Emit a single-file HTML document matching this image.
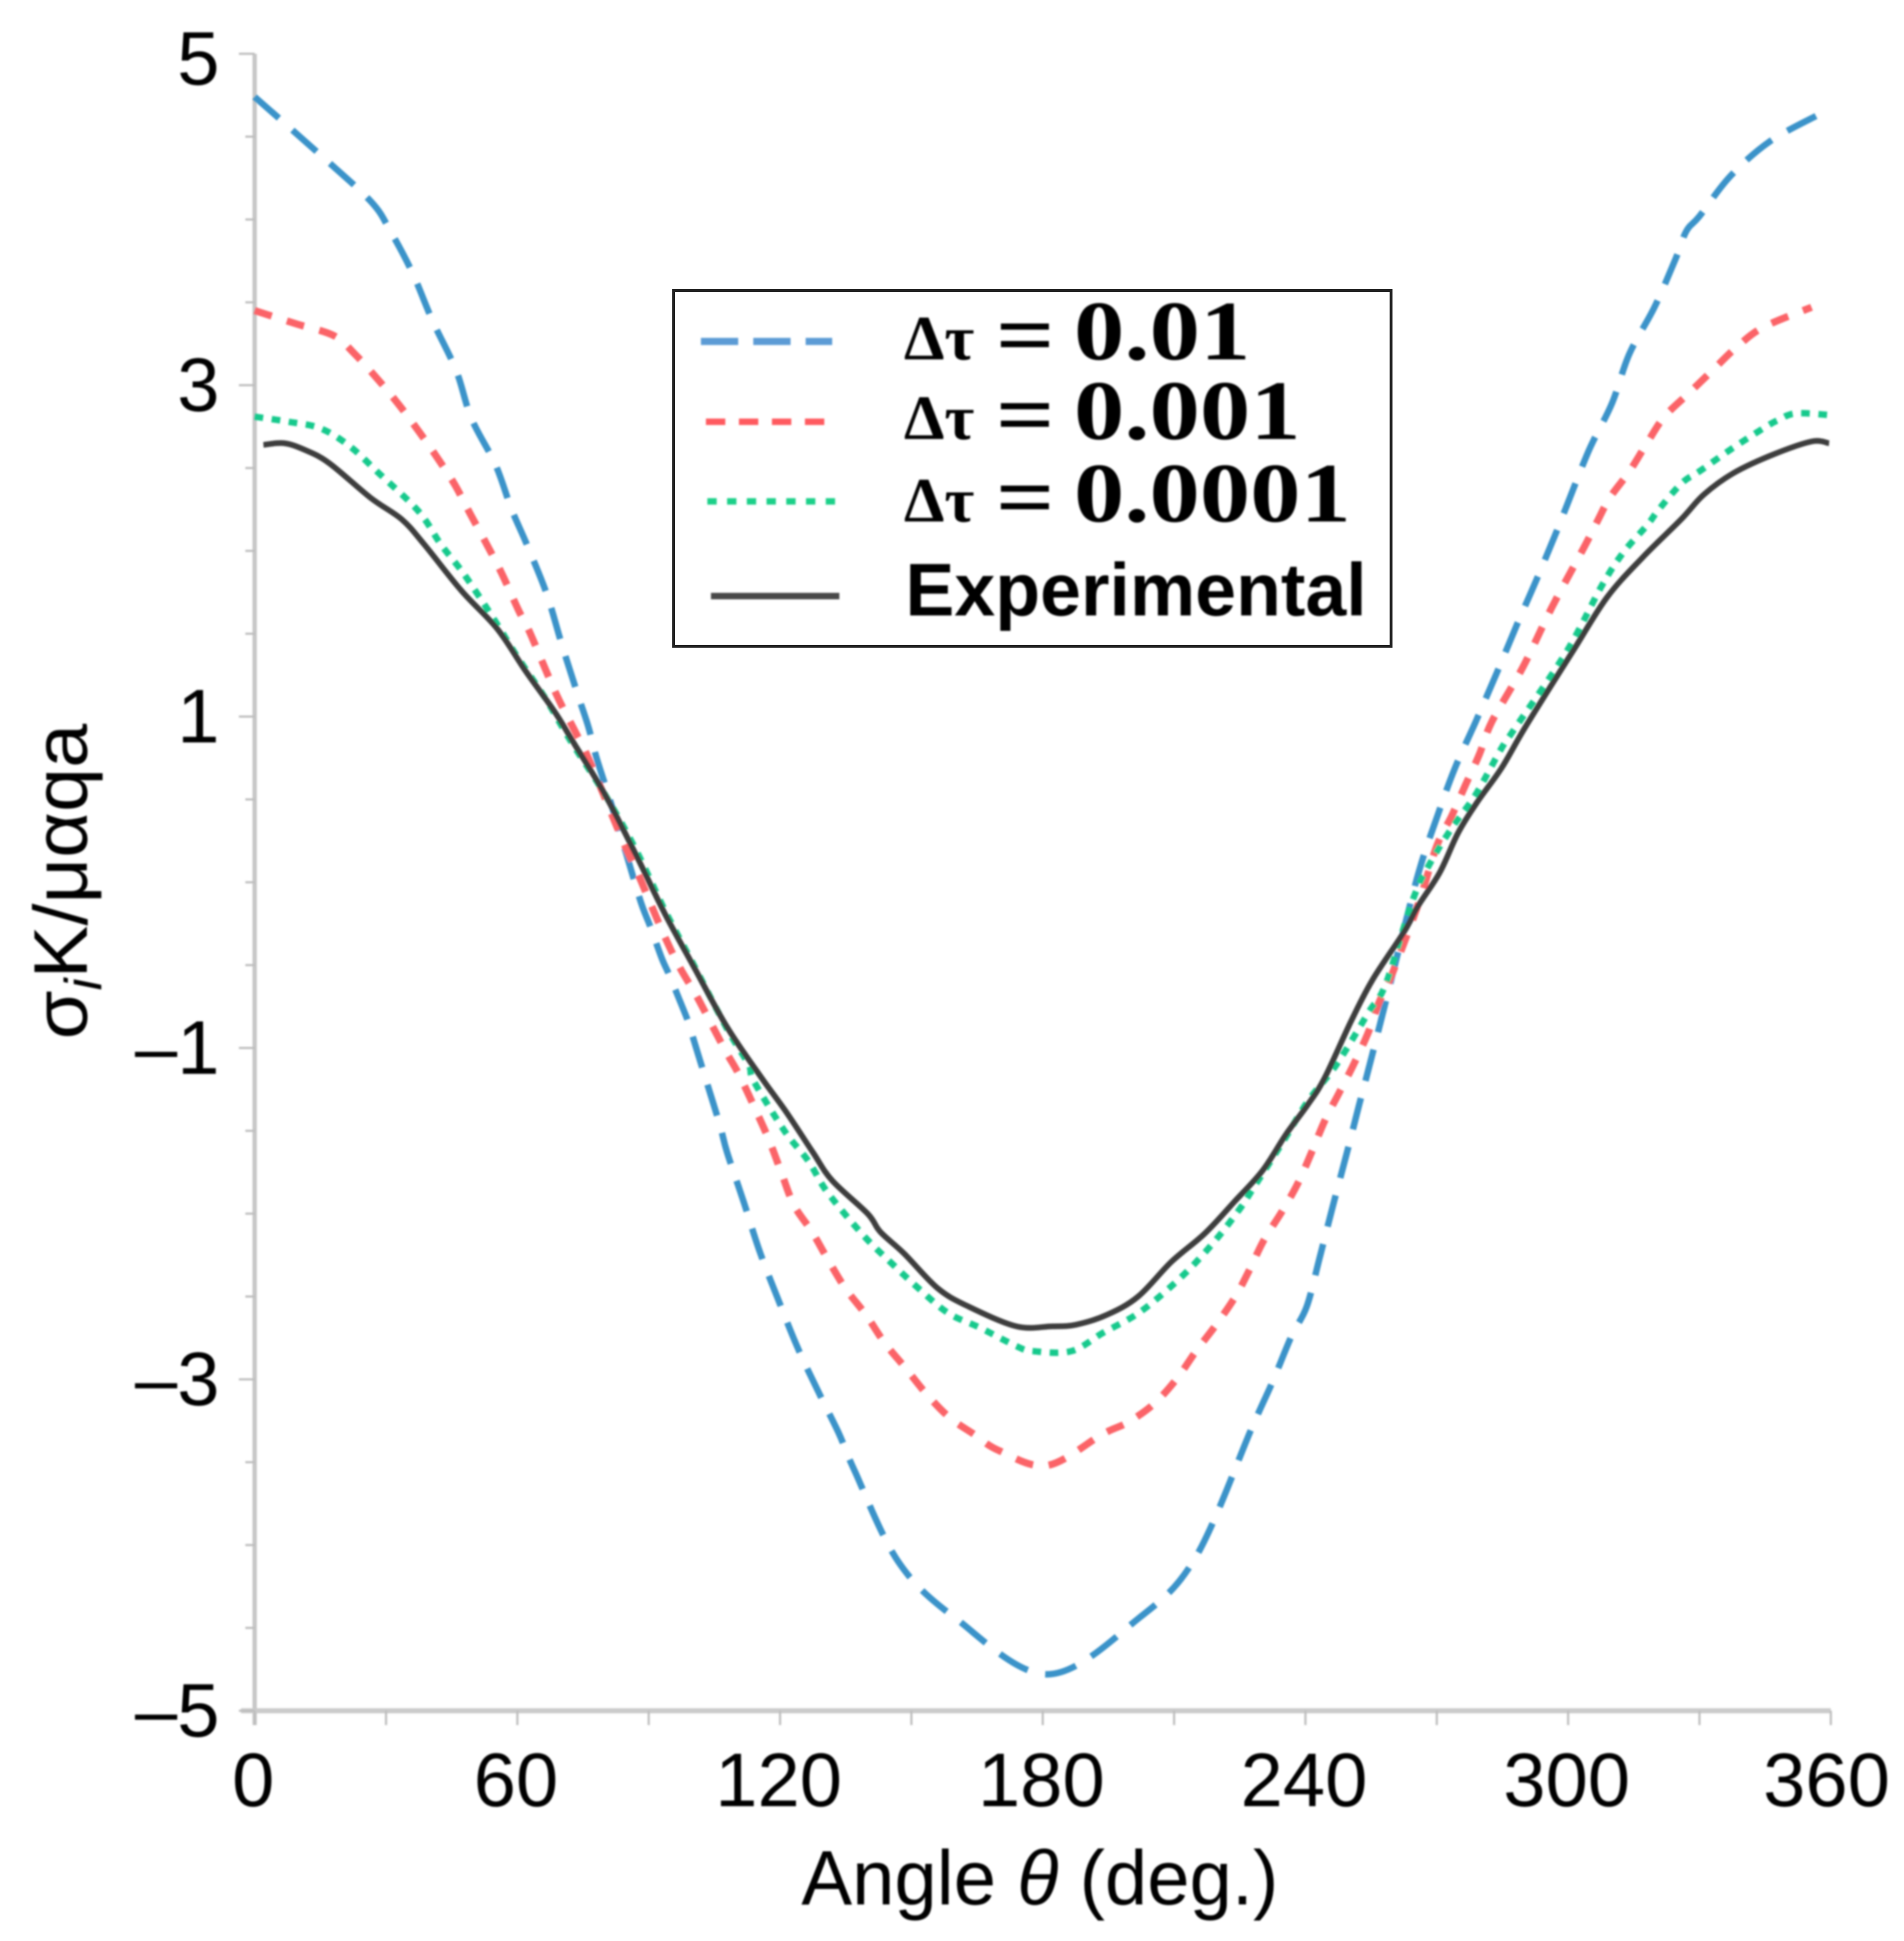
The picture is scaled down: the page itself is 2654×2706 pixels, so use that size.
<!DOCTYPE html>
<html>
<head>
<meta charset="utf-8">
<title>Stress curve chart</title>
<style>
html,body{margin:0;padding:0;background:#fff;}
svg{display:block;}
text{font-family:"Liberation Sans",sans-serif;fill:#000;}
</style>
</head>
<body>
<svg id="chart" xmlns="http://www.w3.org/2000/svg" width="2654" height="2706" viewBox="0 0 2654 2706">
<defs>
<filter id="soft" x="-5%" y="-5%" width="110%" height="110%"><feGaussianBlur stdDeviation="1.3"/></filter>
<filter id="softText" x="-5%" y="-5%" width="110%" height="110%"><feGaussianBlur stdDeviation="1.2"/></filter>
</defs>
<rect width="2654" height="2706" fill="#fff"/>
<g id="axes" filter="url(#soft)"></g>
<g id="series" filter="url(#soft)" fill="none"></g>
<g id="labels" filter="url(#softText)"></g>
<g filter="url(#softText)">
<text x="1117" y="2655" font-size="108" textLength="665" lengthAdjust="spacingAndGlyphs">Angle <tspan font-style="italic">θ</tspan> (deg.)</text>
<text transform="translate(121,1449) rotate(-90)" font-size="106" textLength="440" lengthAdjust="spacingAndGlyphs">σ<tspan font-style="italic" font-size="72" dy="20">i</tspan><tspan dy="-20">K/μαqa</tspan></text>
</g>
<g>
<rect x="939" y="405" width="1000" height="496" fill="#fff" stroke="#222" stroke-width="4"/>
<g filter="url(#soft)" fill="none">
<line x1="977" y1="476" x2="1160" y2="476" stroke="#5b9bd5" stroke-width="10" stroke-dasharray="52 21"/>
<line x1="984" y1="588" x2="1149" y2="588" stroke="#ff5a5f" stroke-width="9" stroke-dasharray="27 19"/>
<line x1="986" y1="699" x2="1165" y2="699" stroke="#1fd089" stroke-width="9" stroke-dasharray="13 14.5"/>
<line x1="991" y1="831" x2="1170" y2="831" stroke="#4a4a4a" stroke-width="9"/>
</g>
<g filter="url(#softText)">
<g>
<text x="1260" y="501" font-size="88" font-weight="bold" textLength="98" lengthAdjust="spacingAndGlyphs" style="font-family:'Liberation Serif',serif">Δτ</text>
<text x="1388" y="508" font-size="122" font-weight="bold" textLength="82" lengthAdjust="spacingAndGlyphs" style="font-family:'Liberation Serif',serif">=</text>
<text x="1497" y="501" font-size="118" font-weight="bold" textLength="246" lengthAdjust="spacingAndGlyphs" style="font-family:'Liberation Serif',serif">0.01</text>
</g>
<g>
<text x="1260" y="612" font-size="88" font-weight="bold" textLength="98" lengthAdjust="spacingAndGlyphs" style="font-family:'Liberation Serif',serif">Δτ</text>
<text x="1388" y="619" font-size="122" font-weight="bold" textLength="82" lengthAdjust="spacingAndGlyphs" style="font-family:'Liberation Serif',serif">=</text>
<text x="1497" y="612" font-size="118" font-weight="bold" textLength="316" lengthAdjust="spacingAndGlyphs" style="font-family:'Liberation Serif',serif">0.001</text>
</g>
<g>
<text x="1260" y="727" font-size="88" font-weight="bold" textLength="98" lengthAdjust="spacingAndGlyphs" style="font-family:'Liberation Serif',serif">Δτ</text>
<text x="1388" y="734" font-size="122" font-weight="bold" textLength="82" lengthAdjust="spacingAndGlyphs" style="font-family:'Liberation Serif',serif">=</text>
<text x="1497" y="727" font-size="118" font-weight="bold" textLength="386" lengthAdjust="spacingAndGlyphs" style="font-family:'Liberation Serif',serif">0.0001</text>
</g>
</g>
<text filter="url(#softText)" x="1262" y="858" font-size="104" font-weight="bold" textLength="643" lengthAdjust="spacingAndGlyphs">Experimental</text>
</g>
</svg>
<script>
const xTickLabels = [0, 60, 120, 180, 240, 300, 360];
const yTickLabels = [5, 3, 1, -1, -3, -5];

const blueAngles = [0,15,26.5,31,36,40.6,46,49.5,55,58.7,62.3,66.7,70.1,73.7,76.2,78.1,81,84.9,88.2,90.4,93,94.7,97.8,99.1,101.3,102.7,106.2,107.9,111.7,115.5,119.9,124.2,129.4,133.5,137,147,160,181,202,215,227.8,232.4,236.8,240.3,243.3,246.3,249.4,252.3,253.6,257.2,263,266.3,270,274,278.9,283.8,288.4,293,297.4,299.8,304.8,310,314,319.7,324.5,327,330,337,346,357];
const blueValues = [4.74,4.39,4.11,3.93,3.68,3.39,3.09,2.80,2.52,2.25,2.03,1.74,1.44,1.14,0.94,0.75,0.51,0.17,-0.12,-0.27,-0.46,-0.56,-0.76,-0.85,-1.04,-1.16,-1.46,-1.63,-1.93,-2.24,-2.54,-2.82,-3.11,-3.33,-3.55,-4.1,-4.44,-4.78,-4.44,-4.07,-3.29,-3.02,-2.74,-2.56,-2.26,-1.95,-1.64,-1.34,-1.21,-0.84,-0.23,0.10,0.39,0.68,0.97,1.27,1.56,1.84,2.12,2.28,2.61,2.89,3.19,3.47,3.76,3.93,4.02,4.26,4.47,4.63];

const redAngles = [0,9.5,18,22.8,28.3,33,37.8,41.5,45.7,49.3,53,56.5,60.3,62.8,68.8,73.4,76.2,84.4,87.4,90.6,93.7,97,100.8,104.4,107.8,110.6,114.7,117.7,120.4,123.2,127.3,131,134.9,139.6,143.9,148.6,153.5,158.7,164.2,170,181,193.7,199.4,205.3,210.5,215,219.6,224,227.2,230.5,234.8,238.4,241.4,244.4,247.7,251,254.3,256.9,259.7,265.8,270,273.4,276.6,279.7,282.6,289.7,296.3,303.4,306.7,309.5,314,318,322,327.5,333,338.5,344.6,355.6];
const redValues = [3.45,3.37,3.30,3.19,3.03,2.88,2.71,2.57,2.40,2.22,2.04,1.86,1.64,1.51,1.14,0.90,0.75,0.23,0.06,-0.14,-0.33,-0.51,-0.68,-0.86,-1.03,-1.16,-1.39,-1.57,-1.76,-1.95,-2.11,-2.28,-2.45,-2.61,-2.78,-2.93,-3.09,-3.23,-3.33,-3.43,-3.52,-3.33,-3.26,-3.15,-3.0,-2.83,-2.67,-2.50,-2.34,-2.16,-1.98,-1.81,-1.63,-1.44,-1.27,-1.10,-0.91,-0.72,-0.56,-0.13,0.22,0.40,0.59,0.77,0.97,1.30,1.66,2.01,2.18,2.32,2.48,2.65,2.81,2.95,3.09,3.23,3.35,3.47];

const greenAngles = [0,7.5,15,21.8,28.3,37.4,42.5,47.8,54.6,60,66.4,72,80,87,93.7,100.3,107.8,112.8,114,121,126.4,130.8,139,145.5,151.6,158.4,165.8,174,177.8,186.5,193.7,201.3,208,214.4,220.4,225.3,228,235,240.6,247.1,254.3,258.4,264.6,269,274,278.9,284.8,287.6,299.6,307.7,312.6,318.2,320.7,326,330,337,344.6,348,352,359.6];
const greenValues = [2.81,2.78,2.74,2.63,2.47,2.24,2.04,1.86,1.59,1.36,1.11,0.86,0.53,0.20,-0.17,-0.50,-0.88,-1.10,-1.2,-1.50,-1.68,-1.87,-2.13,-2.30,-2.45,-2.60,-2.69,-2.80,-2.83,-2.83,-2.72,-2.61,-2.47,-2.31,-2.13,-1.96,-1.85,-1.56,-1.32,-1.10,-0.79,-0.61,-0.10,0.14,0.35,0.53,0.81,0.92,1.39,1.79,1.99,2.16,2.25,2.41,2.48,2.61,2.74,2.79,2.83,2.82];

const blackAngles = [2,6.7,11.4,17,26.5,33.6,38.7,47.2,55.4,62,68.5,72.9,80,87.2,93.7,100.3,107.8,115.5,121.5,127.5,131.9,140,142.9,148.3,156,163,174,182,187.6,194.7,201.8,209.4,217,223.7,230.2,235.6,240.6,244.4,250.4,255.3,262.5,265.8,270.7,274.9,279.4,284.8,290.3,301.2,308.9,317,325.8,331,337.8,346.7,355.6,359.6];
const blackValues = [2.64,2.65,2.61,2.53,2.32,2.19,2.04,1.76,1.53,1.27,1.03,0.84,0.53,0.16,-0.19,-0.51,-0.87,-1.17,-1.39,-1.63,-1.80,-2.00,-2.11,-2.24,-2.45,-2.56,-2.68,-2.68,-2.67,-2.61,-2.50,-2.29,-2.12,-1.93,-1.74,-1.52,-1.34,-1.18,-0.84,-0.59,-0.30,-0.14,0.06,0.30,0.49,0.69,0.94,1.40,1.72,1.96,2.19,2.34,2.47,2.58,2.66,2.65];

const NS = 'http://www.w3.org/2000/svg';
const X0 = 355, X1 = 2552, Y5 = 75, Ym5 = 2385;
function xScale(a) { return X0 + (a / 360) * (X1 - X0); }
function yScale(v) { return Y5 + ((5 - v) / 10) * (Ym5 - Y5); }
function make(tag, attrs) {
  const el = document.createElementNS(NS, tag);
  for (const k in attrs) el.setAttribute(k, attrs[k]);
  return el;
}
function smoothPath(angles, values) {
  const p = angles.map((a, i) => [xScale(a), yScale(values[i])]);
  let d = 'M' + p[0][0].toFixed(1) + ' ' + p[0][1].toFixed(1);
  for (let i = 0; i < p.length - 1; i++) {
    const a = p[Math.max(i - 1, 0)], b = p[i], c = p[i + 1], e = p[Math.min(i + 2, p.length - 1)];
    const c1x = b[0] + (c[0] - a[0]) / 6, c1y = b[1] + (c[1] - a[1]) / 6;
    const c2x = c[0] - (e[0] - b[0]) / 6, c2y = c[1] - (e[1] - b[1]) / 6;
    d += 'C' + c1x.toFixed(1) + ' ' + c1y.toFixed(1) + ' ' + c2x.toFixed(1) + ' ' + c2y.toFixed(1) + ' ' + c[0].toFixed(1) + ' ' + c[1].toFixed(1);
  }
  return d;
}

const axes = document.getElementById('axes');
const seriesGroup = document.getElementById('series');
const labels = document.getElementById('labels');

const yAxisLine = make('line', {x1: X0, y1: Y5, x2: X0, y2: 2405, stroke: '#c6c6c6', 'stroke-width': 6});


axes.appendChild(yAxisLine);

const xAxisLine = make('line', {x1: 336, y1: 2385, x2: X1, y2: 2385, stroke: '#cbcbcb', 'stroke-width': 7});


axes.appendChild(xAxisLine);

for (let v = 5; v >= -5; v -= 0.5) {
  const isMajor = yTickLabels.includes(v);
  const tick = make('line', {x1: X0 - (isMajor ? 22 : 13), y1: yScale(v), x2: X0, y2: yScale(v), stroke: '#bdbdbd', 'stroke-width': 3});
  
  
  axes.appendChild(tick);
}
for (let a = 0; a <= 360; a += 30) {
  const tick = make('line', {x1: xScale(a), y1: 2385, x2: xScale(a), y2: 2405, stroke: '#bdbdbd', 'stroke-width': 3});
  
  
  axes.appendChild(tick);
}

yTickLabels.forEach(function (v) {
  const t = make('text', {x: 306, y: yScale(v) + (v === 5 ? 43 : 36), 'font-size': 106, 'text-anchor': 'end'});
  t.textContent = v < 0 ? '\u2013' + Math.abs(v) : String(v);
  
  
  labels.appendChild(t);
});
xTickLabels.forEach(function (a) {
  const t = make('text', {x: a === 360 ? xScale(a) - 6 : xScale(a) - 2, y: 2518, 'font-size': 106, 'text-anchor': 'middle'});
  t.textContent = String(a);
  
  
  labels.appendChild(t);
});

const bluePath = make('path', {d: smoothPath(blueAngles, blueValues), stroke: '#3a93c9', 'stroke-width': 9, 'stroke-dasharray': '45 25'});


seriesGroup.appendChild(bluePath);

const redPath = make('path', {d: smoothPath(redAngles, redValues), stroke: '#fb6468', 'stroke-width': 10, 'stroke-dasharray': '25 22'});


seriesGroup.appendChild(redPath);

const greenPath = make('path', {d: smoothPath(greenAngles, greenValues), stroke: '#12c98c', 'stroke-width': 9, 'stroke-dasharray': '12 12'});


seriesGroup.appendChild(greenPath);

const blackPath = make('path', {d: smoothPath(blackAngles, blackValues), stroke: '#3d3d3d', 'stroke-width': 8});


seriesGroup.appendChild(blackPath);
</script>
</body>
</html>
